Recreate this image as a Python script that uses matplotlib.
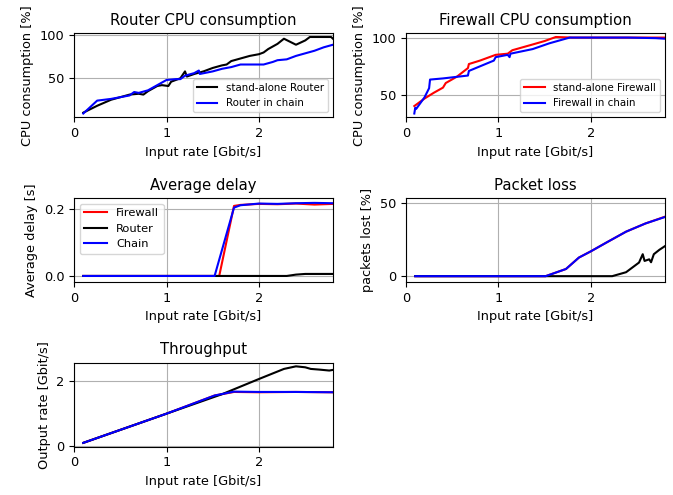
import matplotlib
matplotlib.use("Agg")
import matplotlib.pyplot as plt
import numpy as np

plt.rcParams["font.size"] = 9.3
plt.rcParams["axes.titlesize"] = 10.7

X_MAX = 2.8

# Router CPU consumption [%]
router_alone_x = [0.1, 0.25, 0.4, 0.5, 0.6, 0.7, 0.75, 0.8, 0.9, 0.95, 1.02, 1.05, 1.1, 1.15, 1.2, 1.22, 1.3, 1.4, 1.5, 1.6, 1.65, 1.7, 1.8, 1.9, 2.0, 2.05, 2.1, 2.2, 2.27, 2.4, 2.5, 2.55, 2.6, 2.7, 2.78, 2.8]
router_alone_cpu = [10, 18, 25, 28, 31, 32, 31, 35, 41, 42, 41, 46, 48, 50, 58, 52, 55, 58, 62, 65, 66, 70, 73, 76, 78, 80, 84, 90, 96, 89, 94, 98, 98, 98, 98, 96]
router_chain_x = [0.1, 0.15, 0.25, 0.4, 0.5, 0.6, 0.65, 0.7, 0.8, 0.9, 1.0, 1.1, 1.15, 1.2, 1.3, 1.35, 1.36, 1.5, 1.6, 1.7, 1.8, 1.9, 2.0, 2.05, 2.15, 2.2, 2.3, 2.4, 2.5, 2.6, 2.7, 2.8]
router_chain_cpu = [9, 14, 24, 26, 28, 30, 34, 33, 36, 42, 48, 49, 49, 53, 56, 59, 55, 58, 61, 63, 66, 66, 66, 66, 69, 71, 72, 76, 79, 82, 86, 89]

# Firewall CPU consumption [%]
fw_alone_x = [0.09, 0.2, 0.3, 0.4, 0.43, 0.55, 0.67, 0.68, 0.8, 0.97, 1.1, 1.15, 1.37, 1.5, 1.62, 1.8, 2.0, 2.4, 2.8]
fw_alone_cpu = [40.5, 47, 52, 56.5, 60.5, 66, 73.5, 77, 80, 85, 86, 89, 94, 97, 100.5, 100, 100, 100, 100]
fw_chain_x = [0.09, 0.1, 0.11, 0.2, 0.25, 0.26, 0.4, 0.67, 0.68, 0.8, 0.95, 0.97, 1.1, 1.12, 1.13, 1.37, 1.55, 1.77, 2.0, 2.4, 2.7, 2.8]
fw_chain_cpu = [34, 39, 38, 48, 56, 63.5, 64.5, 67, 71, 75, 80, 83, 85, 83, 86, 90, 95, 100, 100, 100, 99.5, 99]

# Average delay [s]
delay_fw_x = [0.1, 1.0, 1.57, 1.73, 1.8, 2.0, 2.2, 2.4, 2.6, 2.8]
delay_fw = [0.0, 0.0, 0.0, 0.208, 0.211, 0.214, 0.213, 0.215, 0.212, 0.214]
delay_router_x = [0.1, 1.0, 2.0, 2.3, 2.4, 2.5, 2.6, 2.8]
delay_router = [0.0, 0.0, 0.0, 0.0, 0.004, 0.006, 0.006, 0.006]
delay_chain_x = [0.1, 1.0, 1.52, 1.73, 1.8, 2.0, 2.2, 2.4, 2.6, 2.8]
delay_chain = [0.0, 0.0, 0.0, 0.203, 0.21, 0.215, 0.214, 0.216, 0.217, 0.216]

# Packet loss [%]
loss_fw_x = [0.1, 1.0, 1.51, 1.73, 1.87, 2.0, 2.16, 2.38, 2.59, 2.8]
loss_fw = [0, 0, 0, 4.9, 12.7, 17, 22.7, 30.4, 36, 40.6]
loss_router_x = [0.1, 1.0, 2.0, 2.23, 2.38, 2.52, 2.56, 2.58, 2.63, 2.65, 2.68, 2.74, 2.8]
loss_router = [0, 0, 0, 0, 2.7, 9.3, 15, 10.4, 11.5, 9.5, 15, 18, 20.5]
loss_chain_x = [0.1, 1.0, 1.51, 1.73, 1.87, 2.0, 2.16, 2.38, 2.59, 2.8]
loss_chain = [0, 0, 0, 4.9, 12.7, 17, 22.7, 30.4, 36, 40.4]

# Throughput [Gbit/s]
tp_fw_x = [0.1, 1.0, 1.52, 1.73, 2.0, 2.4, 2.8]
tp_fw = [0.1, 1.0, 1.56, 1.67, 1.66, 1.67, 1.66]
tp_router_x = [0.1, 1.0, 1.6, 2.0, 2.27, 2.4, 2.5, 2.56, 2.65, 2.76, 2.8]
tp_router = [0.1, 1.0, 1.6, 2.07, 2.38, 2.46, 2.43, 2.38, 2.36, 2.33, 2.35]
tp_chain_x = [0.1, 1.0, 1.52, 1.73, 2.0, 2.4, 2.8]
tp_chain = [0.1, 1.0, 1.56, 1.68, 1.67, 1.67, 1.66]


def style_axis(ax, title, ylabel):
    ax.set_title(title)
    ax.set_xlabel("Input rate [Gbit/s]")
    ax.set_ylabel(ylabel)
    ax.set_xlim(0, X_MAX)
    ax.set_xticks([0, 1, 2])
    ax.grid(True)


fig, axes = plt.subplots(3, 2, figsize=(6.73, 4.95), dpi=100)
fig.subplots_adjust(left=0.110, right=0.988, top=0.933, bottom=0.0976,
                    hspace=0.956, wspace=0.282)

ax = axes[0, 0]
ax.plot(router_alone_x, router_alone_cpu, color="black", label="stand-alone Router")
ax.plot(router_chain_x, router_chain_cpu, color="blue", label="Router in chain")
style_axis(ax, "Router CPU consumption", "CPU consumption [%]")
ax.set_yticks([50, 100])
ax.legend(loc="lower right", fontsize=7.4)

ax = axes[0, 1]
ax.plot(fw_alone_x, fw_alone_cpu, color="red", label="stand-alone Firewall")
ax.plot(fw_chain_x, fw_chain_cpu, color="blue", label="Firewall in chain")
style_axis(ax, "Firewall CPU consumption", "CPU consumption [%]")
ax.set_yticks([50, 100])
ax.legend(loc="lower right", fontsize=7.4)

ax = axes[1, 0]
ax.plot(delay_fw_x, delay_fw, color="red", label="Firewall")
ax.plot(delay_router_x, delay_router, color="black", label="Router")
ax.plot(delay_chain_x, delay_chain, color="blue", label="Chain")
style_axis(ax, "Average delay", "Average delay [s]")
ax.set_ylim(-0.018, 0.232)
ax.set_yticks([0.0, 0.2])
ax.legend(loc="upper left", fontsize=8.2)

ax = axes[1, 1]
ax.plot(loss_fw_x, loss_fw, color="red")
ax.plot(loss_router_x, loss_router, color="black")
ax.plot(loss_chain_x, loss_chain, color="blue")
style_axis(ax, "Packet loss", "packets lost [%]")
ax.set_ylim(-4, 53.5)
ax.set_yticks([0, 50])

ax = axes[2, 0]
ax.plot(tp_fw_x, tp_fw, color="red")
ax.plot(tp_router_x, tp_router, color="black")
ax.plot(tp_chain_x, tp_chain, color="blue")
style_axis(ax, "Throughput", "Output rate [Gbit/s]")
ax.set_yticks([0, 2])

axes[2, 1].axis("off")

fig.savefig("out.png", dpi=100)
